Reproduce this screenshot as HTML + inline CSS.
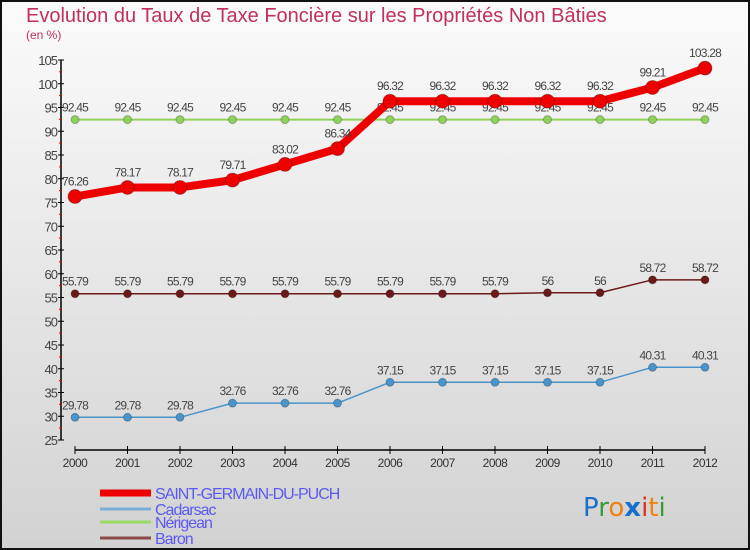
<!DOCTYPE html>
<html><head><meta charset="utf-8"><style>
html,body{margin:0;padding:0;}
body{width:750px;height:550px;overflow:hidden;}
svg{display:block;font-family:"Liberation Sans",sans-serif;}
</style></head><body>
<svg id="chart" width="750" height="550" viewBox="0 0 750 550">
<defs><linearGradient id="bg" x1="0" y1="0" x2="0" y2="1"><stop offset="0" stop-color="#fbfbfb"/><stop offset="1" stop-color="#d2d2d2"/></linearGradient></defs>
<rect x="1" y="1" width="748" height="548" fill="url(#bg)" stroke="#111" stroke-width="2"/>
<text x="26" y="22" font-size="20" fill="#c0305a">Evolution du Taux de Taxe Foncière sur les Propriétés Non Bâties</text>
<text x="26" y="39" font-size="12" fill="#c0305a">(en %)</text>
<g id="axes"></g><g id="series"></g><g id="legend"></g>
<text x="583" y="516" font-size="26" font-family="DejaVu Sans,sans-serif"><tspan fill="#1a6fc8">P</tspan><tspan fill="#3a9a3a">r</tspan><tspan fill="#f08010">o</tspan><tspan fill="#1a6fc8" font-weight="bold">x</tspan><tspan fill="#e03020">i</tspan><tspan fill="#f08010">t</tspan><tspan fill="#3a9a3a">i</tspan></text>
</svg>
<script>
const years=[2000,2001,2002,2003,2004,2005,2006,2007,2008,2009,2010,2011,2012];
const yTicks=[25,30,35,40,45,50,55,60,65,70,75,80,85,90,95,100,105];
const saint=[76.26,78.17,78.17,79.71,83.02,86.34,96.32,96.32,96.32,96.32,96.32,99.21,103.28];
const cadarsac=[29.78,29.78,29.78,32.76,32.76,32.76,37.15,37.15,37.15,37.15,37.15,40.31,40.31];
const nerigean=[92.45,92.45,92.45,92.45,92.45,92.45,92.45,92.45,92.45,92.45,92.45,92.45,92.45];
const baron=[55.79,55.79,55.79,55.79,55.79,55.79,55.79,55.79,55.79,56,56,58.72,58.72];
const seriesNames=["SAINT-GERMAIN-DU-PUCH","Cadarsac","Nérigean","Baron"];

const NS="http://www.w3.org/2000/svg";
const xS=i=>75+i*52.5;
const yS=v=>440-(v-25)*4.75;
function mk(tag,attrs,parent){const e=document.createElementNS(NS,tag);for(const k in attrs)e.setAttribute(k,attrs[k]);parent.appendChild(e);return e;}
const axes=document.getElementById('axes');
let e=mk('line',{x1:61,y1:yS(105),x2:61,y2:yS(25),stroke:'#000','stroke-width':1.5},axes);


yTicks.forEach(t=>{
  const y=yS(t);
  mk('line',{x1:58,y1:y,x2:64,y2:y,stroke:'#000'},axes);
  if(t<105) mk('line',{x1:59,y1:y-11.9,x2:62,y2:y-11.9,stroke:'#e00'},axes);
  const tx=mk('text',{x:57,y:y+5,'text-anchor':'end','font-size':13,fill:'#444','letter-spacing':'-1'},axes);
  tx.textContent=t;
  
  
});
e=mk('line',{x1:xS(0),y1:450,x2:xS(12),y2:450,stroke:'#000','stroke-width':1.5},axes);


years.forEach((yr,i)=>{
  mk('line',{x1:xS(i),y1:446,x2:xS(i),y2:454,stroke:'#000'},axes);
  const tx=mk('text',{x:xS(i),y:467,'text-anchor':'middle','font-size':12,fill:'#333','letter-spacing':'-0.5'},axes);
  tx.textContent=yr;
  
  
});
const sg=document.getElementById('series');
function draw(vals,color,lw,r,name){
  const g=mk('g',{},sg);
  
  
  mk('polyline',{points:vals.map((v,i)=>xS(i)+','+yS(v)).join(' '),fill:'none',stroke:color,'stroke-width':lw,'stroke-linejoin':'round'},g);
  vals.forEach((v,i)=>{
    const c=mk('circle',{cx:xS(i),cy:yS(v),r:r,fill:color,stroke:'rgba(0,0,0,0.25)','stroke-width':1},g);
    
    
    const t=mk('text',{x:xS(i),y:yS(v)-r-4,'text-anchor':'middle','font-size':12,fill:'#444','letter-spacing':'-0.8'},g);
    t.textContent=String(v);
    
    
  });
}
draw(nerigean,'#8ed25a',2,4,'nerigean-series');
draw(baron,'#6b1a1a',1.5,4,'baron-series');
draw(cadarsac,'#4a94cc',1.5,4,'cadarsac-series');
draw(saint,'#ee0000',8,7,'saint-germain-series');
const lg=document.getElementById('legend');
const lc=['#ee0000','#7aaed6','#99dd66','#8b4a4a'],lw=[7,3,3,3],ly=[493,509,522,538];
seriesNames.forEach((n,i)=>{
  const g=mk('g',{},lg);
  
  
  mk('line',{x1:100,y1:ly[i],x2:151,y2:ly[i],stroke:lc[i],'stroke-width':lw[i]},g);
  const t=mk('text',{x:155,y:ly[i]+6,'font-size':16,fill:'#5a5af0','letter-spacing':'-1'},g);
  t.textContent=n;
});
</script>
</body></html>
